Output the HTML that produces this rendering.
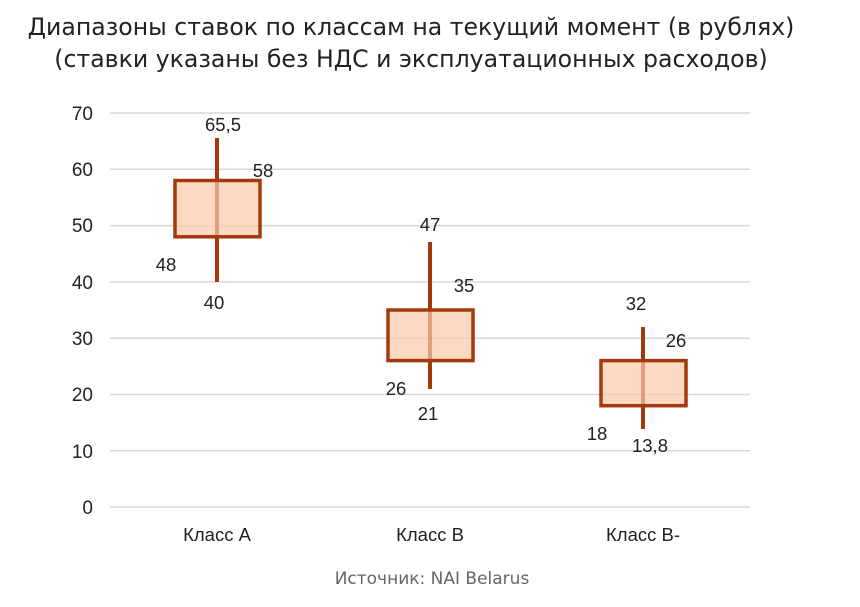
<!DOCTYPE html>
<html><head><meta charset="utf-8"><style>
html,body{margin:0;padding:0;background:#fff;width:860px;height:607px;overflow:hidden}
svg text{font-family:"Liberation Sans",Arial,sans-serif}
svg text.dv{font-family:"DejaVu Sans","Liberation Sans",sans-serif}
</style></head><body>
<svg width="860" height="607" xmlns="http://www.w3.org/2000/svg">
<text class="dv" x="411" y="35" text-anchor="middle" font-size="23.6" fill="#222">Диапазоны ставок по классам на текущий момент (в рублях)</text>
<text class="dv" x="411" y="67" text-anchor="middle" font-size="23.6" fill="#222">(ставки указаны без НДС и эксплуатационных расходов)</text>
<g stroke="#d9d9d9" stroke-width="1.5">
<line x1="110" x2="750" y1="113" y2="113"/><line x1="110" x2="750" y1="169.3" y2="169.3"/>
<line x1="110" x2="750" y1="225.6" y2="225.6"/><line x1="110" x2="750" y1="281.9" y2="281.9"/>
<line x1="110" x2="750" y1="338.2" y2="338.2"/><line x1="110" x2="750" y1="394.5" y2="394.5"/>
<line x1="110" x2="750" y1="450.8" y2="450.8"/><line x1="110" x2="750" y1="507" y2="507"/>
</g>
<g font-size="19" fill="#222" text-anchor="end">
<text x="93" y="120">70</text><text x="93" y="176">60</text><text x="93" y="232">50</text><text x="93" y="289">40</text>
<text x="93" y="345">30</text><text x="93" y="401">20</text><text x="93" y="458">10</text><text x="93" y="514">0</text>
</g>
<g stroke="#a43a0b" stroke-width="4">
<line x1="217" x2="217" y1="138" y2="282"/>
<line x1="430" x2="430" y1="242" y2="389"/>
<line x1="643" x2="643" y1="327" y2="429"/>
</g>
<g stroke="#a43a0b" stroke-width="3.5" fill="#fbc9a9" fill-opacity="0.7">
<rect x="175" y="180.5" width="85" height="56.3"/>
<rect x="388" y="310" width="85" height="50.6"/>
<rect x="601" y="360.6" width="85" height="45.1"/>
</g>
<g font-size="18.5" fill="#222" text-anchor="middle">
<text x="223" y="131">65,5</text><text x="263" y="177">58</text><text x="166" y="271">48</text><text x="214" y="309">40</text>
<text x="430" y="231">47</text><text x="464" y="292">35</text><text x="396" y="395">26</text><text x="428" y="420">21</text>
<text x="636" y="310">32</text><text x="676" y="347">26</text><text x="597" y="440">18</text><text x="650" y="452">13,8</text>
</g>
<g font-size="18.5" fill="#222" text-anchor="middle">
<text x="217" y="541">Класс А</text><text x="430" y="541">Класс В</text><text x="643" y="541">Класс В-</text>
</g>
<text class="dv" x="432" y="584" text-anchor="middle" font-size="17" fill="#666">Источник: NAI Belarus</text>
</svg>
</body></html>
